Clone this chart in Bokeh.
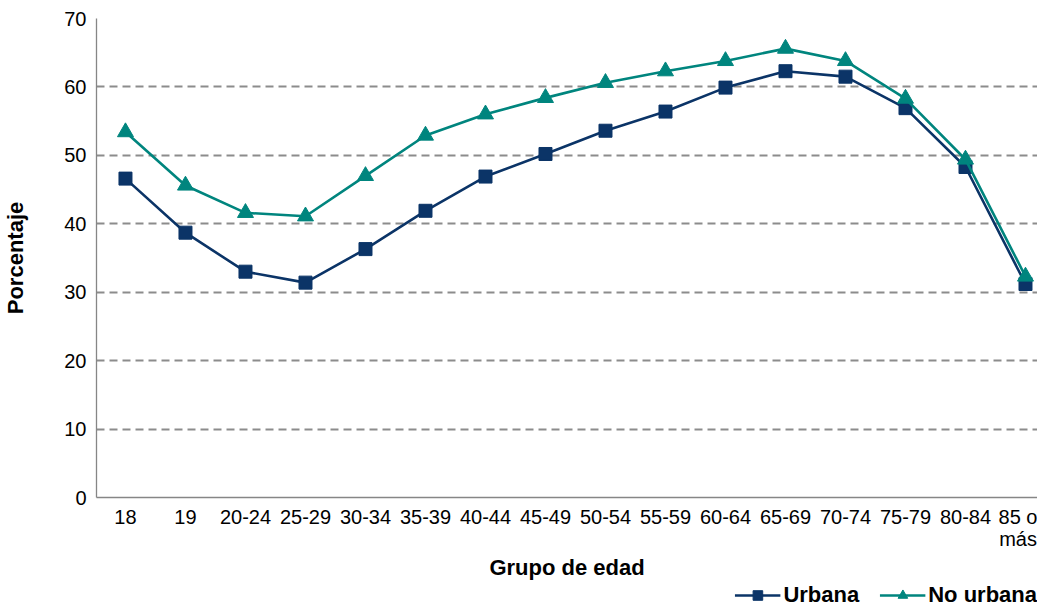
from bokeh.plotting import figure
from bokeh.layouts import column
from bokeh.models import FixedTicker, Range1d, Legend, LegendItem
from bokeh.embed import file_html
from bokeh.resources import INLINE

categories = ["18", "19", "20-24", "25-29", "30-34", "35-39", "40-44", "45-49",
              "50-54", "55-59", "60-64", "65-69", "70-74", "75-79", "80-84", "85 o\nmás"]
urbana = [46.6, 38.7, 33.0, 31.4, 36.3, 41.9, 46.9, 50.2,
          53.6, 56.4, 59.9, 62.3, 61.5, 56.9, 48.3, 31.2]
no_urbana = [53.4, 45.6, 41.6, 41.1, 47.0, 52.9, 56.0, 58.4,
             60.6, 62.3, 63.8, 65.6, 63.8, 58.3, 49.4, 32.3]
y_ticks = [0, 10, 20, 30, 40, 50, 60, 70]
series_names = ["Urbana", "No urbana"]

FONT = "Liberation Sans"
C_URB = "#0B3467"
C_NOURB = "#00857E"

x = list(range(len(categories)))

W = 1037
p = figure(width=W, height=582, output_backend="svg", toolbar_location=None,
           x_range=Range1d(-0.483, 15.20), y_range=Range1d(0, 70),
           min_border_left=96, min_border_top=18, min_border_right=0,
           min_border_bottom=84)
p.outline_line_color = None
p.background_fill_color = "white"

p.line(x, urbana, line_color=C_URB, line_width=2.6)
p.scatter(x, urbana, marker="square", size=13, fill_color=C_URB, line_color=C_URB)
p.line(x, no_urbana, line_color=C_NOURB, line_width=2.6)
p.scatter(x, no_urbana, marker="triangle", size=16, fill_color=C_NOURB, line_color=C_NOURB)

# axes
p.xaxis.ticker = FixedTicker(ticks=x)
p.xaxis.major_label_overrides = {i: c for i, c in enumerate(categories)}
p.yaxis.ticker = FixedTicker(ticks=y_ticks)
for ax in (p.xaxis[0], p.yaxis[0]):
    ax.axis_line_color = "#868686"
    ax.axis_line_width = 1.3
    ax.major_tick_line_color = None
    ax.minor_tick_line_color = None
    ax.major_tick_in = 0
    ax.major_tick_out = 0
    ax.minor_tick_in = 0
    ax.minor_tick_out = 0
    ax.major_label_text_font = FONT
    ax.major_label_text_font_size = "20px"
    ax.major_label_text_color = "black"
    ax.major_label_text_line_height = 1.0
    ax.axis_label_text_font = FONT
    ax.axis_label_text_font_size = "22px"
    ax.axis_label_text_font_style = "bold"
    ax.axis_label_text_color = "black"
p.xaxis.axis_label = "Grupo de edad"
p.yaxis.axis_label = "Porcentaje"
p.xaxis.major_label_standoff = 8
p.xaxis.axis_label_standoff = 2
p.yaxis.major_label_standoff = 10
p.yaxis.axis_label_standoff = 33

p.xgrid.grid_line_color = None
p.ygrid.grid_line_color = "#8C8C8C"
p.ygrid.grid_line_width = 2
p.ygrid.grid_line_dash = "8 5"

# legend strip below the chart (series drawn out of view, only the legend shows)
lg = figure(width=W, height=24, output_backend="svg", toolbar_location=None,
            x_axis_type=None, y_axis_type=None,
            x_range=Range1d(-100, -99), y_range=Range1d(-100, -99),
            min_border_left=0, min_border_right=0, min_border_top=0, min_border_bottom=0)
lg.outline_line_color = None
lg.grid.visible = False
r1l = lg.line(x, urbana, line_color=C_URB, line_width=2.6)
r1s = lg.scatter(x, urbana, marker="square", size=13, fill_color=C_URB, line_color=C_URB)
r2l = lg.line(x, no_urbana, line_color=C_NOURB, line_width=2.6)
r2s = lg.scatter(x, no_urbana, marker="triangle", size=16, fill_color=C_NOURB, line_color=C_NOURB)

legend = Legend(items=[LegendItem(label=series_names[0], renderers=[r1l, r1s]),
                       LegendItem(label=series_names[1], renderers=[r2l, r2s])],
                orientation="horizontal", location="top_right",
                border_line_color=None, background_fill_alpha=0,
                padding=0, margin=0, spacing=20, label_standoff=3,
                glyph_width=46, glyph_height=24, label_height=24,
                label_text_font=FONT, label_text_font_size="22px",
                label_text_font_style="bold", label_text_color="black")
lg.add_layout(legend, "center")

open("out.html", "w").write(file_html(column(p, lg, spacing=0), INLINE))
